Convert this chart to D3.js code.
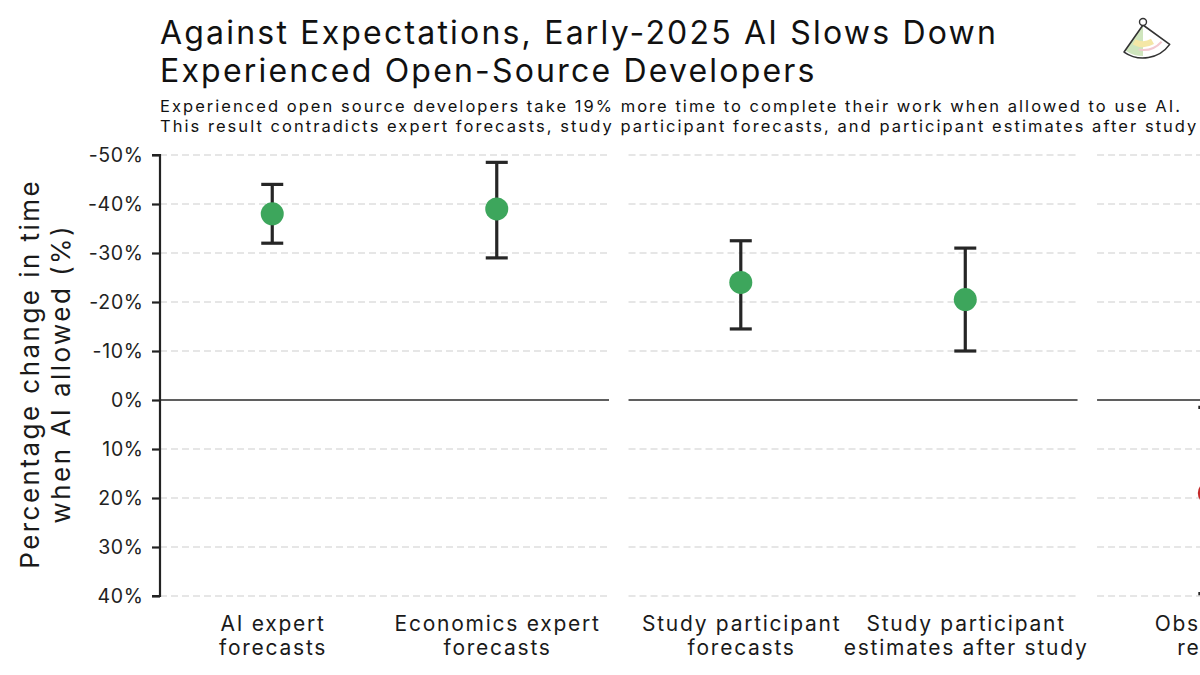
<!DOCTYPE html>
<html>
<head>
<meta charset="utf-8">
<script src="https://cdn.jsdelivr.net/npm/d3@7"></script>
<style>
  html, body { margin: 0; padding: 0; background: #fff; overflow: hidden; }
  svg { display: block; font-family: Inter, "Open Sans", sans-serif; }
</style>
</head>
<body>
<svg id="chart" width="1200" height="675"></svg>
<script>
// ---- data ----
const categories = ["AI expert\nforecasts", "Economics expert\nforecasts", "Study participant\nforecasts", "Study participant\nestimates after study", "Observed\nresult"];
const panels = [0, 0, 1, 1, 2];
const estimates = [-38, -39, -24, -20.5, 19];
const lowerCI = [-44, -48.5, -32.5, -31, 1.5];
const upperCI = [-32, -29, -14.5, -10, 39.5];
const pointColors = ["#3da65c", "#3da65c", "#3da65c", "#3da65c", "#c42a2a"];
const yTicks = [-50, -40, -30, -20, -10, 0, 10, 20, 30, 40];
const titleLines = ["Against Expectations, Early-2025 AI Slows Down", "Experienced Open-Source Developers"];
const subtitleLines = ["Experienced open source developers take 19% more time to complete their work when allowed to use AI.",
  "This result contradicts expert forecasts, study participant forecasts, and participant estimates after study completion."];
const yTitleLines = ["Percentage change in time", "when AI allowed (%)"];

// ---- layout ----
const svg = d3.select("#chart");
const plotLeft = 160, plotTop = 155, plotBottom = 596;
const panelGap = 0.087; // in category units

const y = d3.scaleLinear().domain([-50, 40]).range([plotTop, plotBottom]);
const slot = (i) => i + panels[i] * panelGap;
const x = d3.scaleLinear().domain([0, 1]).range([plotLeft, plotLeft + 224.5]);

// widen text with letter-spacing so that sel reaches target width; returns spacing
function spread(sel, target) {
  const node = sel.node();
  const w = node.getComputedTextLength();
  const n = node.textContent.length;
  return (target - w) / n;
}

// panels extents
const panelIds = Array.from(new Set(panels));
const panelExt = panelIds.map(p => {
  const idx = panels.map((q, i) => q === p ? i : -1).filter(i => i >= 0);
  return { p, x0: x(slot(idx[0])), x1: x(slot(idx[idx.length - 1]) + 1) };
});

// gridlines
const grid = svg.append("g");
panelExt.forEach(pe => {
  grid.selectAll(null).data(yTicks.filter(t => t !== 0)).enter().append("line")
    .attr("x1", pe.x0).attr("x2", pe.x1)
    .attr("y1", d => y(d)).attr("y2", d => y(d))
    .attr("stroke", "#dedede").attr("stroke-width", 1.3).attr("stroke-dasharray", "7,4");
  grid.append("line")
    .attr("x1", pe.x0).attr("x2", pe.x1)
    .attr("y1", y(0)).attr("y2", y(0))
    .attr("stroke", "#2a2a2a").attr("stroke-width", 1.6);
});

// y axis
const yAxis = d3.axisLeft(y).tickValues(yTicks).tickFormat(d => d + "%").tickSize(8).tickPadding(9);
const gy = svg.append("g").attr("transform", `translate(${plotLeft},0)`).call(yAxis);
gy.select(".domain").attr("stroke", "#222").attr("stroke-width", 2.2).attr("d", `M-8,${plotTop}H0V${plotBottom}H-8`);
gy.selectAll(".tick line").attr("stroke", "#222").attr("stroke-width", 2.2);
gy.selectAll(".tick text").attr("font-family", "Inter, sans-serif").attr("font-size", 19.5).attr("fill", "#222");
{
  const t = gy.selectAll(".tick text").filter(d => d === -50);
  const ls = spread(t, 55);
  gy.selectAll(".tick text").attr("letter-spacing", ls).attr("dx", ls);
}

// error bars
const eb = svg.append("g");
const cx = (d, i) => x(slot(i) + 0.5);
eb.selectAll(".whisker").data(estimates).enter().append("line")
  .attr("x1", cx).attr("x2", cx)
  .attr("y1", (d, i) => y(lowerCI[i])).attr("y2", (d, i) => y(upperCI[i]))
  .attr("stroke", "#262626").attr("stroke-width", 3.2);
[lowerCI, upperCI].forEach(arr => {
  eb.selectAll(null).data(arr).enter().append("line")
    .attr("x1", (d, i) => cx(d, i) - 11).attr("x2", (d, i) => cx(d, i) + 11)
    .attr("y1", d => y(d)).attr("y2", d => y(d))
    .attr("stroke", "#262626").attr("stroke-width", 3.2);
});
eb.selectAll("circle").data(estimates).enter().append("circle")
  .attr("cx", cx).attr("cy", d => y(d)).attr("r", 11.5)
  .attr("fill", (d, i) => pointColors[i]);

// x labels
const xl = svg.append("g");
const xlSize = 21;
let xlLS = 0;
{
  const tmp = svg.append("text").attr("font-size", xlSize).text("Economics expert");
  xlLS = spread(tmp, 206);
  tmp.remove();
}
const xlTexts = xl.selectAll("text").data(categories).enter().append("text")
  .attr("x", (d, i) => cx(d, i)).attr("y", 631)
  .attr("text-anchor", "middle").attr("font-size", xlSize).attr("letter-spacing", xlLS).attr("fill", "#1a1a1a");
xlTexts.each(function (d) {
  const lines = d.split("\n");
  const t = d3.select(this);
  lines.forEach((l, k) => t.append("tspan").attr("x", +t.attr("x") + xlLS / 2).attr("dy", k === 0 ? 0 : 24).text(l));
});

// y title
const yt = svg.append("g");
yTitleLines.forEach((l, k) => {
  yt.append("text").attr("transform", `translate(${39 + k * 31},375) rotate(-90)`)
    .attr("text-anchor", "middle").attr("font-size", 26).attr("fill", "#1a1a1a").text(l);
});
{
  const ls = spread(yt.select("text"), 390);
  yt.selectAll("text").attr("letter-spacing", ls).attr("dx", ls / 2);
}

// title & subtitle
const tg = svg.append("g");
const tl = tg.selectAll("text.title").data(titleLines).enter().append("text")
  .attr("x", 160).attr("y", (d, i) => 44 + i * 38).attr("font-size", 32).attr("fill", "#111").text(d => d);
{
  const ls = spread(d3.select(tl.nodes()[0]), 838);
  tl.attr("letter-spacing", ls);
}
const st = tg.selectAll("text.sub").data(subtitleLines).enter().append("text")
  .attr("x", 160).attr("y", (d, i) => 112 + i * 20).attr("font-size", 16.5).attr("fill", "#111").text(d => d);
{
  const ls = spread(d3.select(st.nodes()[0]), 1022);
  st.attr("letter-spacing", ls);
}

// logo (decorative fan)
const logo = svg.append("g").attr("transform", "translate(1143,25)");
const deg = Math.PI / 180;
logo.append("path").attr("d", d3.arc()({ innerRadius: 0, outerRadius: 33, startAngle: 126 * deg, endAngle: 215 * deg }))
  .attr("fill", "#fff");
logo.append("path").attr("d", d3.arc()({ innerRadius: 0, outerRadius: 31, startAngle: 180 * deg, endAngle: 215 * deg }))
  .attr("fill", "#cfe5bd");
logo.append("path").attr("d", d3.arc()({ innerRadius: 16, outerRadius: 22, startAngle: 150 * deg, endAngle: 208 * deg }))
  .attr("fill", "#f4e7a6");
logo.append("path").attr("d", d3.arc()({ innerRadius: 24, outerRadius: 26, startAngle: 132 * deg, endAngle: 190 * deg }))
  .attr("fill", "#f2c8cf");
logo.append("path").attr("d", d3.arc()({ innerRadius: 0, outerRadius: 33, startAngle: 126 * deg, endAngle: 215 * deg }))
  .attr("fill", "none").attr("stroke", "#333").attr("stroke-width", 1.6).attr("stroke-linejoin", "round");
logo.append("circle").attr("cx", 0).attr("cy", -3).attr("r", 3.5).attr("fill", "#fff").attr("stroke", "#333").attr("stroke-width", 1.4);
</script>
</body>
</html>
